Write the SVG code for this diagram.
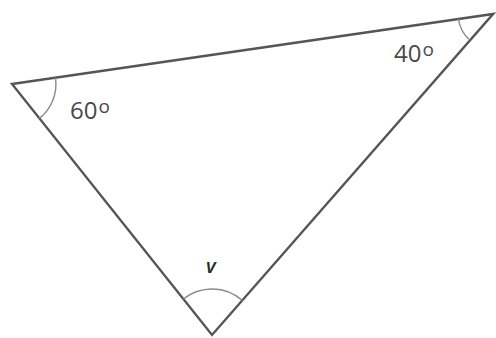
<svg xmlns="http://www.w3.org/2000/svg" width="496" height="338" viewBox="0 0 496 338">
<style>
.edge{fill:none;stroke:#555;stroke-width:2.4;stroke-linejoin:miter}
.arc{fill:none;stroke:#8a8a8a;stroke-width:1.4}
.lbl{font-family:"Open Sans","DejaVu Sans",sans-serif;font-size:24px;fill:#4a4a4a}
.sup{font-size:19px}
</style>
<rect width="496" height="338" fill="#fff"/>
<g id="triangle">
<polygon class="edge" points="12,84 493,14 212,335"/>
</g>
<g id="angles">
<path class="arc" d="M55.5,77.7 A44,44 0 0 1 39.4,118.4"/>
<path class="arc" d="M458.4,19 A35,35 0 0 0 469.9,40.3"/>
<path class="arc" d="M183.3,299 A46,46 0 0 1 242.3,300.4"/>
</g>
<g id="labels">
<text class="lbl" x="70" y="119">60<tspan class="sup" dx="1" dy="-6">o</tspan></text>
<text class="lbl" x="394" y="62">40<tspan class="sup" dx="1" dy="-6">o</tspan></text>
<text class="lbl" x="206" y="273" style="font-size:20px;font-style:italic;font-weight:600;fill:#2a2a2a">v</text>
</g>
</svg>
